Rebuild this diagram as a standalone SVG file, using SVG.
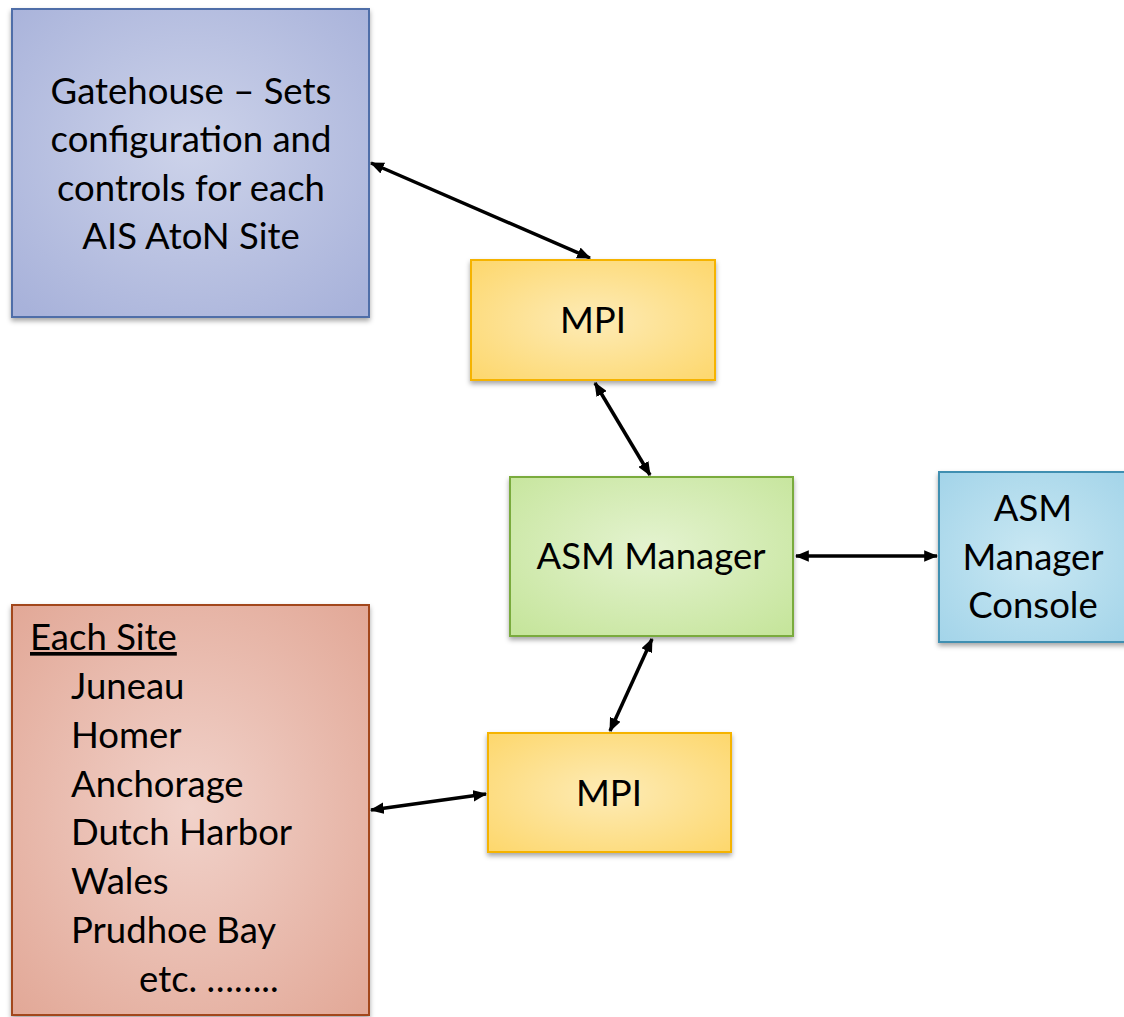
<svg xmlns="http://www.w3.org/2000/svg" width="1124" height="1017" viewBox="0 0 1124 1017">
  <style>
    .lbl { font-family: Lato, "Open Sans", "Liberation Sans", sans-serif; font-size: 36.5px; fill: #000; }
    .mid { text-anchor: middle; }
    .box { stroke-width: 2; filter: url(#shadow); }
    .wire { stroke: #000; stroke-width: 3.5; fill: none; marker-start: url(#head); marker-end: url(#head); }
  </style>
  <defs>
    <filter id="shadow" x="-10%" y="-10%" width="120%" height="125%">
      <feDropShadow dx="0" dy="3" stdDeviation="2.5" flood-color="#000" flood-opacity="0.35"/>
    </filter>
    <marker id="head" viewBox="0 0 12 10" refX="11" refY="5" markerWidth="4" markerHeight="3.4" markerUnits="strokeWidth" orient="auto-start-reverse">
      <path d="M0,0 L12,5 L0,10 z" fill="#000"/>
    </marker>
    <radialGradient id="gBlue" cx="50%" cy="45%" r="70%">
      <stop offset="0" stop-color="#cdd3ea"/>
      <stop offset="1" stop-color="#a8b2da"/>
    </radialGradient>
    <radialGradient id="gYellow" cx="50%" cy="50%" r="70%">
      <stop offset="0" stop-color="#fdebb6"/>
      <stop offset="1" stop-color="#fdd76c"/>
    </radialGradient>
    <radialGradient id="gGreen" cx="50%" cy="45%" r="70%">
      <stop offset="0" stop-color="#e4f3d0"/>
      <stop offset="1" stop-color="#c6e59c"/>
    </radialGradient>
    <radialGradient id="gCyan" cx="50%" cy="50%" r="70%">
      <stop offset="0" stop-color="#cae8f3"/>
      <stop offset="1" stop-color="#a3d4e9"/>
    </radialGradient>
    <radialGradient id="gRed" cx="50%" cy="50%" r="70%">
      <stop offset="0" stop-color="#f1d2ca"/>
      <stop offset="1" stop-color="#e2a897"/>
    </radialGradient>
  </defs>

  <!-- connectors -->
  <g id="connectors">
    <line class="wire" x1="371" y1="163" x2="590" y2="258"/>
    <line class="wire" x1="595" y1="383" x2="650" y2="475"/>
    <line class="wire" x1="796" y1="556" x2="937" y2="556"/>
    <line class="wire" x1="652" y1="639" x2="610" y2="731"/>
    <line class="wire" x1="371" y1="810" x2="486" y2="794"/>
  </g>

  <g id="gatehouse">
    <rect class="box" x="12" y="9" width="357" height="308" fill="url(#gBlue)" stroke="#4f6ea8"/>
    <text class="lbl mid" x="191" y="104">Gatehouse – Sets</text>
    <text class="lbl mid" x="191" y="152">configuration and</text>
    <text class="lbl mid" x="191" y="201">controls for each</text>
    <text class="lbl mid" x="191" y="249">AIS AtoN Site</text>
  </g>

  <g id="mpi-top">
    <rect class="box" x="471" y="260" width="244" height="120" fill="url(#gYellow)" stroke="#f5b300"/>
    <text class="lbl mid" x="593" y="333">MPI</text>
  </g>

  <g id="asm-manager">
    <rect class="box" x="510" y="477" width="283" height="159" fill="url(#gGreen)" stroke="#7aab3c"/>
    <text class="lbl mid" x="651" y="569">ASM Manager</text>
  </g>

  <g id="asm-console">
    <rect class="box" x="939" y="472" width="190" height="170" fill="url(#gCyan)" stroke="#3f8fb1"/>
    <text class="lbl mid" x="1033" y="521">ASM</text>
    <text class="lbl mid" x="1033" y="570">Manager</text>
    <text class="lbl mid" x="1033" y="618">Console</text>
  </g>

  <g id="mpi-bottom">
    <rect class="box" x="488" y="733" width="243" height="119" fill="url(#gYellow)" stroke="#f5b300"/>
    <text class="lbl mid" x="609" y="806">MPI</text>
  </g>

  <g id="sites">
    <rect class="box" x="12" y="605" width="357" height="410" fill="url(#gRed)" stroke="#a2471f"/>
    <text class="lbl" x="30" y="650" text-decoration="underline">Each Site</text>
    <text class="lbl" x="71" y="699">Juneau</text>
    <text class="lbl" x="71" y="748">Homer</text>
    <text class="lbl" x="71" y="797">Anchorage</text>
    <text class="lbl" x="71" y="845">Dutch Harbor</text>
    <text class="lbl" x="71" y="894">Wales</text>
    <text class="lbl" x="71" y="943">Prudhoe Bay</text>
    <text class="lbl" x="139" y="992">etc. ……..</text>
  </g>
</svg>
